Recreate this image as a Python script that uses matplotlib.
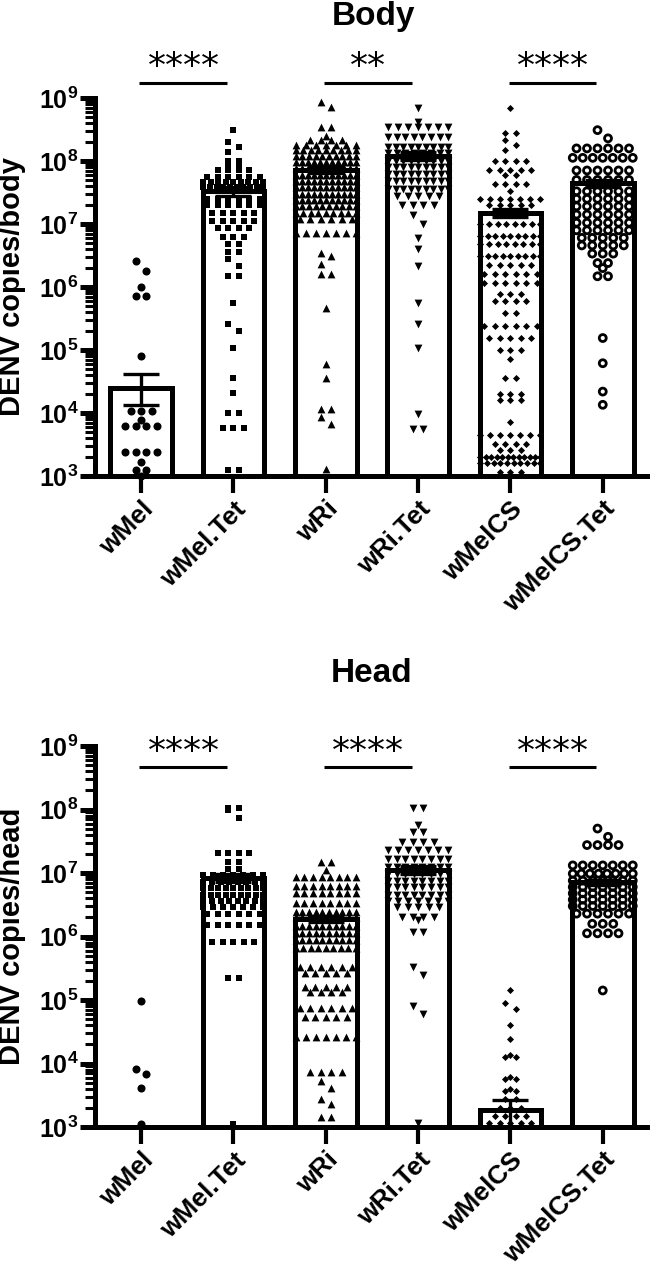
import numpy as np
import matplotlib
matplotlib.use('Agg')
import matplotlib.pyplot as plt
from matplotlib.ticker import LogLocator, NullFormatter

plt.rcParams['font.family'] = ['Liberation Sans', 'DejaVu Sans']
plt.rcParams['font.weight'] = 'bold'
plt.rcParams['mathtext.fontset'] = 'custom'
plt.rcParams['mathtext.rm'] = 'Liberation Sans:bold'
plt.rcParams['mathtext.bf'] = 'Liberation Sans:bold'

groups = ['wMel', 'wMel.Tet', 'wRi', 'wRi.Tet', 'wMelCS', 'wMelCS.Tet']

# bar = mean, error bar = SEM
body_mean = [2.45e4, 3.3e7, 7.2e7, 1.2e8, 1.5e7, 4.4e7]
body_lo = [1.35e4, 2.8e7, 6.4e7, 1.05e8, 1.3e7, 3.9e7]
body_hi = [4.1e4, 3.9e7, 8.1e7, 1.37e8, 1.75e7, 5.0e7]

head_mean = [1.0e3, 8.3e6, 1.9e6, 1.1e7, 1.85e3, 7.1e6]
head_lo = [1.0e3, 7.2e6, 1.7e6, 9.6e6, 1.0e3, 6.4e6]
head_hi = [1.0e3, 9.6e6, 2.1e6, 1.27e7, 2.7e3, 7.9e6]

# individual mosquitoes, (log10 copies, number of points in that row)
body_wmel = [(6.41, 1), (6.25, 1), (6.0, 1), (5.85, 2), (4.90, 1), (4.03, 3), (3.89, 1),
             (3.79, 4), (3.38, 4), (3.22, 1), (3.09, 2), (3.0, 1)]
body_wmel_tet = [(8.49, 1), (8.30, 1), (8.22, 1), (8.15, 1), (8.0, 2), (7.93, 2), (7.85, 4),
                 (7.75, 6), (7.66, 9), (7.58, 10), (7.40, 6), (7.30, 6), (7.18, 5), (7.05, 5),
                 (6.93, 4), (6.80, 3), (6.68, 2), (6.56, 2), (6.45, 1), (6.33, 1), (6.17, 2),
                 (5.74, 1), (5.42, 1), (5.30, 1), (5.03, 1), (4.55, 1), (4.31, 1), (4.0, 2),
                 (3.76, 3), (3.1, 2)]
body_wri = [(8.94, 1), (8.86, 1), (8.54, 2), (8.40, 1), (8.34, 4), (8.26, 7), (8.17, 9),
            (8.08, 10), (7.98, 11), (7.89, 11), (7.78, 11), (7.68, 11), (7.58, 11), (7.48, 11),
            (7.38, 11), (7.28, 10), (7.18, 9), (7.08, 6), (6.86, 7), (6.54, 1), (6.49, 1),
            (6.37, 1), (6.2, 2), (5.66, 1), (4.77, 1), (4.55, 1), (4.07, 2), (3.94, 1),
            (3.83, 1), (3.11, 1)]
body_wri_tet = [(8.84, 1), (8.62, 1), (8.54, 7), (8.38, 8), (8.22, 9), (8.12, 8), (8.0, 9),
                (7.9, 9), (7.8, 9), (7.68, 9), (7.56, 9), (7.45, 5), (7.30, 4), (7.15, 1),
                (7.0, 1), (6.78, 1), (6.6, 1), (6.33, 1), (5.74, 1), (5.42, 1), (5.03, 1),
                (3.99, 1), (3.75, 2)]
body_wmelcs = [(8.84, 1), (8.44, 2), (8.33, 1), (8.25, 1), (8.17, 1), (8.0, 4), (7.85, 5),
               (7.77, 2), (7.63, 4), (7.53, 1), (7.40, 7), (7.30, 5), (7.22, 3), (7.0, 8),
               (6.81, 9), (6.68, 8), (6.49, 9), (6.35, 5), (6.2, 6), (6.06, 6), (5.89, 3),
               (5.78, 4), (5.59, 2), (5.38, 6), (5.19, 5), (5.0, 3), (4.85, 1), (4.55, 2),
               (4.30, 3), (4.2, 3), (3.86, 1), (3.65, 7), (3.51, 4), (3.41, 3), (3.3, 12),
               (3.2, 10), (3.06, 3)]
body_wmelcs_tet = [(8.49, 1), (8.36, 1), (8.2, 6), (8.05, 7), (7.85, 6), (7.70, 6), (7.52, 6),
                   (7.40, 6), (7.28, 6), (7.15, 6), (7.02, 6), (6.90, 6), (6.78, 5), (6.66, 5),
                   (6.53, 3), (6.38, 2), (6.30, 1), (6.17, 2), (5.19, 1), (4.79, 1), (4.34, 1),
                   (4.13, 1)]

head_wmel = [(4.99, 1), (3.92, 1), (3.84, 1), (3.62, 1), (3.05, 1)]
head_wmel_tet = [(8.02, 2), (7.99, 1), (7.87, 1), (7.31, 4), (7.17, 2), (7.06, 2), (6.97, 7),
                 (6.86, 8), (6.76, 9), (6.66, 9), (6.56, 8), (6.46, 7), (6.36, 6), (6.18, 6),
                 (5.92, 5), (5.35, 2), (3.05, 1)]
head_wri = [(7.18, 2), (7.04, 1), (6.94, 8), (6.80, 8), (6.68, 8), (6.52, 8), (6.38, 10),
            (6.30, 10), (6.16, 10), (6.05, 10), (5.95, 10), (5.82, 9), (5.52, 6), (5.42, 5),
            (5.20, 5), (5.13, 4), (4.88, 6), (4.73, 5), (4.41, 7), (3.86, 4), (3.73, 1),
            (3.62, 1), (3.44, 1), (3.36, 1), (3.15, 2)]
head_wri_tet = [(8.02, 2), (7.75, 1), (7.65, 2), (7.49, 4), (7.36, 7), (7.22, 8), (7.10, 8),
                (6.98, 8), (6.88, 8), (6.78, 8), (6.66, 8), (6.56, 7), (6.46, 5), (6.31, 4),
                (6.26, 1), (6.07, 2), (5.52, 1), (5.39, 1), (4.91, 1), (4.78, 1), (3.07, 1)]
head_wmelcs = [(5.15, 1), (4.96, 1), (4.86, 1), (4.60, 1), (4.39, 1), (4.14, 1), (4.10, 2),
               (3.79, 1), (3.75, 2), (3.60, 1), (3.56, 2), (3.44, 2), (3.30, 3), (3.18, 4),
               (3.06, 5)]
head_wmelcs_tet = [(7.70, 1), (7.57, 1), (7.44, 4), (7.12, 7), (6.99, 8), (6.88, 7), (6.78, 7),
                   (6.68, 7), (6.58, 7), (6.48, 7), (6.36, 6), (6.20, 3), (6.05, 4), (5.15, 1)]

body_points = [body_wmel, body_wmel_tet, body_wri, body_wri_tet, body_wmelcs, body_wmelcs_tet]
head_points = [head_wmel, head_wmel_tet, head_wri, head_wri_tet, head_wmelcs, head_wmelcs_tet]

# significance brackets
pairs = [(0, 1), (2, 3), (4, 5)]
body_stars = ['****', '**', '****']
head_stars = ['****', '****', '****']

# marker look per group: marker, size (pt), filled
markers = [('o', 5.8, True), ('s', 5.0, True), ('^', 5.6, True),
           ('v', 5.6, True), ('D', 3.6, True), ('o', 5.0, False)]

PX_PER_CAT = 92.3
ROW_GAP = 10.5    # px between neighbours in a row
ROW_HALF = 30.0   # px, widest a row may spread from the centre


def row_offsets(rows):
    # GraphPad-like scatter: points of a row spread symmetrically about the centre,
    # lone points that sit close above/below each other are nudged side to side
    offs = []
    last_lv, last_off = None, 0.0
    for lv, n in rows:
        if n == 1:
            if last_lv is not None and abs(last_lv - lv) < 0.17:
                o = -last_off if last_off != 0 else ROW_GAP / 2
                if last_off == 0:
                    offs[-1] = -ROW_GAP / 2
            else:
                o = 0.0
            offs.append(o)
            last_lv, last_off = lv, o
            continue
        gap = min(ROW_GAP, 2 * ROW_HALF / (n - 1))
        offs += list((np.arange(n) - (n - 1) / 2) * gap)
        last_lv = None
    return np.array(offs) / PX_PER_CAT


def draw_panel(ax, means, lo, hi, points, stars, ylabel, line_y, star_y):
    x = np.arange(len(groups))
    ax.bar(x, np.array(means) - 1e3, bottom=1e3, width=0.67, color='white',
           edgecolor='black', linewidth=3.6, zorder=2)
    for i, rows in enumerate(points):
        levels = np.repeat([r[0] for r in rows], [r[1] for r in rows])
        offs = row_offsets(rows)
        m, ms, filled = markers[i]
        if filled:
            ax.scatter(i + offs, 10 ** levels, marker=m, s=ms ** 2, color='black',
                       linewidths=0, zorder=3, clip_on=False)
        else:
            ax.scatter(i + offs, 10 ** levels, marker=m, s=ms ** 2, facecolors='none',
                       edgecolors='black', linewidths=2.0, zorder=3, clip_on=False)
    yerr = [np.array(means) - np.array(lo), np.array(hi) - np.array(means)]
    ax.errorbar(x, means, yerr=yerr, fmt='none', ecolor='black', elinewidth=2.4,
                capsize=13, capthick=2.4, zorder=4)

    ax.set_yscale('log')
    ax.set_ylim(1e3, 1e9)
    ax.set_xlim(-0.5, 5.49)
    for s in ['top', 'right']:
        ax.spines[s].set_visible(False)
    for s in ['left', 'bottom']:
        ax.spines[s].set_linewidth(3.6)
    ax.set_yticks([10.0 ** k for k in range(3, 10)])
    ax.set_yticklabels([r'$\mathrm{10^{%d}}$' % k for k in range(3, 10)])
    ax.yaxis.set_minor_locator(LogLocator(base=10, subs=np.arange(2, 10), numticks=20))
    ax.yaxis.set_minor_formatter(NullFormatter())
    ax.tick_params(axis='y', which='major', length=11, width=3.6, labelsize=18, pad=1)
    ax.tick_params(axis='y', which='minor', length=7, width=2.2)
    ax.tick_params(axis='x', length=12, width=3, labelsize=19, pad=3)
    ax.set_xticks(x)
    ax.set_xticklabels(groups, rotation=45, ha='right', rotation_mode='anchor',
                       fontweight='bold')
    ax.set_ylabel(ylabel, fontsize=21, fontweight='bold')
    ax.yaxis.set_label_coords(-0.124, 0.5)

    tr = ax.get_xaxis_transform()
    for (a, b), st in zip(pairs, stars):
        ax.plot([a - 0.02, b - 0.07], [line_y, line_y], color='black', lw=2.2,
                transform=tr, clip_on=False, solid_capstyle='butt')
        ax.text((a + b) / 2 - 0.04, star_y, st, transform=tr, ha='center', va='center',
                fontsize=26, fontweight='normal', family='DejaVu Sans')


fig = plt.figure(figsize=(6.5, 12.73), dpi=100)
ax1 = fig.add_axes([95 / 650, 1 - 476 / 1273, 553 / 650, 378 / 1273])
ax2 = fig.add_axes([95 / 650, 1 - 1127 / 1273, 553 / 650, 381 / 1273])

draw_panel(ax1, body_mean, body_lo, body_hi, body_points, body_stars,
           'DENV copies/body', 1.040, 1.082)
draw_panel(ax2, head_mean, head_lo, head_hi, head_points, head_stars,
           'DENV copies/head', 0.945, 0.985)

fig.text(373 / 650, 1 - 17 / 1273, 'Body', ha='center', va='center', fontsize=24, fontweight='bold')
fig.text(372 / 650, 1 - 674 / 1273, 'Head', ha='center', va='center', fontsize=24, fontweight='bold')

fig.savefig('out.png', dpi=100)
